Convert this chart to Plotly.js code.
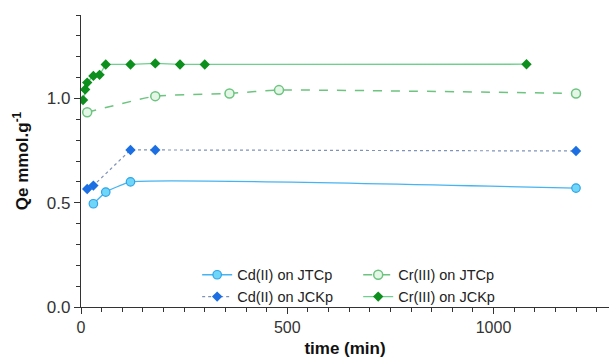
<!DOCTYPE html>
<html>
<head>
<meta charset="utf-8">
<script src="https://cdn.plot.ly/plotly-3.0.1.min.js"></script>
<style>html,body{margin:0;padding:0;background:#fff}#chart{width:610px;height:361px}</style>
</head>
<body>
<div id="chart"></div>
<script>
// Data
const cdJTCpTime = [30, 60, 120, 1200];
const cdJTCpQe   = [0.495, 0.551, 0.600, 0.570];

const cdJCKpTime = [15, 30, 120, 180, 1200];
const cdJCKpQe   = [0.566, 0.582, 0.753, 0.753, 0.748];

const crJTCpTime = [15, 180, 360, 480, 1200];
const crJTCpQe   = [0.934, 1.011, 1.024, 1.040, 1.024];

const crJCKpTime = [5, 10, 15, 30, 45, 60, 120, 180, 240, 300, 1080];
const crJCKpQe   = [0.992, 1.043, 1.076, 1.108, 1.113, 1.163, 1.163, 1.168, 1.163, 1.163, 1.164];

const seriesNames = ["Cd(II) on JTCp", "Cd(II) on JCKp", "Cr(III) on JTCp", "Cr(III) on JCKp"];
const yTickVals = [0, 0.5, 1.0];
const yTickText = ["0.0", "0.5", "1.0"];
const xTickVals = [0, 500, 1000];

const font = "Liberation Sans, Arial, sans-serif";

const traces = [
  {
    x: cdJTCpTime, y: cdJTCpQe, name: seriesNames[0], type: "scatter", mode: "lines+markers",
    line: {color: "#45b4f2", width: 1.3, shape: "spline", smoothing: 0.35},
    marker: {symbol: "circle", size: 8.5, color: "#6fd6f7", line: {color: "#2ea4ea", width: 1.2}},
    legend: "legend"
  },
  {
    x: cdJCKpTime, y: cdJCKpQe, name: seriesNames[1], type: "scatter", mode: "lines+markers",
    line: {color: "#7f93b8", width: 1.2, dash: "dot"},
    marker: {symbol: "diamond", size: 8, color: "#1b6fe3", line: {color: "#1b6fe3", width: 0}},
    legend: "legend"
  },
  {
    x: crJTCpTime, y: crJTCpQe, name: seriesNames[2], type: "scatter", mode: "lines+markers",
    line: {color: "#6cc47f", width: 1.5, dash: "dash", shape: "spline", smoothing: 0.4},
    marker: {symbol: "circle", size: 9, color: "#e4f7e7", line: {color: "#6cc47f", width: 1.5}},
    legend: "legend2"
  },
  {
    x: crJCKpTime, y: crJCKpQe, name: seriesNames[3], type: "scatter", mode: "lines+markers",
    line: {color: "#6fd08e", width: 1.3},
    marker: {symbol: "diamond", size: 8, color: "#0c8f1c", line: {color: "#0c8f1c", width: 0}},
    legend: "legend2"
  }
];

const legendCommon = {
  bgcolor: "rgba(0,0,0,0)", borderwidth: 0,
  font: {family: font, size: 14.5, color: "#222"},
  orientation: "v", xanchor: "left", yanchor: "top",
  itemwidth: 30, tracegroupgap: 0
};

const layout = {
  width: 610, height: 361,
  margin: {l: 81, r: 1, t: 15, b: 54},
  paper_bgcolor: "#fff", plot_bgcolor: "#fff",
  showlegend: true,
  legend: Object.assign({}, legendCommon, {x: 0.22, y: 0.165}),
  legend2: Object.assign({}, legendCommon, {x: 0.525, y: 0.165}),
  xaxis: {
    range: [0, 1280], showgrid: false, zeroline: false,
    showline: true, linecolor: "#333", linewidth: 1.2,
    tickvals: xTickVals, ticks: "outside", ticklen: 6, tickcolor: "#333",
    minor: {dtick: 50, ticks: "outside", ticklen: 4, tickcolor: "#333"},
    tickfont: {family: font, size: 16, color: "#333"},
    title: {text: "<b>time (min)</b>", font: {family: font, size: 17, color: "#111"}, standoff: 6}
  },
  yaxis: {
    range: [0, 1.4], showgrid: false, zeroline: false,
    showline: true, linecolor: "#333", linewidth: 1.2,
    tickvals: yTickVals, ticktext: yTickText, ticks: "outside", ticklen: 6, tickcolor: "#333",
    minor: {dtick: 0.1, ticks: "outside", ticklen: 4, tickcolor: "#333"},
    tickfont: {family: font, size: 17, color: "#333"},
    title: {text: "<b>Qe mmol.g<sup>-1</sup></b>", font: {family: font, size: 17, color: "#111"}, standoff: 13}
  }
};

Plotly.newPlot("chart", traces, layout, {displayModeBar: false, staticPlot: true});
</script>
</body>
</html>
